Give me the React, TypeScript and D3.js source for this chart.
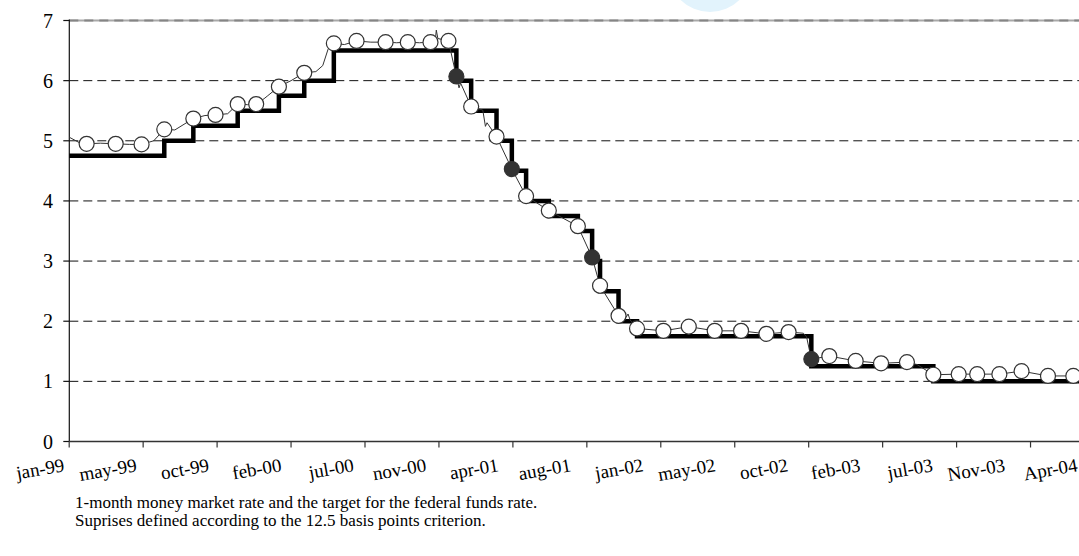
import React, { useEffect, useRef } from 'react';
import * as d3 from 'd3';

// target for the federal funds rate (step changes)
const TARGET_DATES = ['1999-01-01', '1999-06-30', '1999-08-24', '1999-11-16', '2000-02-02', '2000-03-21', '2000-05-16',
  '2001-01-03', '2001-01-31', '2001-03-20', '2001-04-18', '2001-05-15', '2001-06-27', '2001-08-21', '2001-09-17',
  '2001-10-02', '2001-11-06', '2001-12-11', '2002-11-06', '2003-06-25', '2004-04-30'];
const TARGET_VALUES = [4.75, 5.0, 5.25, 5.5, 5.75, 6.0, 6.5, 6.0, 5.5, 5.0, 4.5, 4.0, 3.75, 3.5, 3.0, 2.5, 2.0, 1.75, 1.25, 1.0, 1.0];

// 1-month money market rate
const MM_DATES = ['1999-01-01', '1999-01-20', '1999-02-03', '1999-03-01', '1999-03-30', '1999-04-25', '1999-05-18',
  '1999-06-10', '1999-06-30', '1999-07-20', '1999-08-24', '1999-09-15', '1999-10-05', '1999-10-28', '1999-11-16',
  '1999-12-05', '1999-12-21', '2000-01-05', '2000-01-12', '2000-02-02', '2000-02-25', '2000-03-21', '2000-04-12',
  '2000-04-25', '2000-05-05', '2000-05-16', '2000-06-05', '2000-06-28', '2000-07-25', '2000-08-22', '2000-09-12',
  '2000-10-03', '2000-10-25', '2000-11-15', '2000-11-24', '2000-11-26', '2000-11-29', '2000-12-19', '2001-01-03',
  '2001-01-08', '2001-01-11', '2001-01-31', '2001-02-22', '2001-02-27', '2001-03-02', '2001-03-20', '2001-04-18',
  '2001-05-15', '2001-06-27', '2001-08-21', '2001-09-17', '2001-10-02', '2001-11-06', '2001-11-20', '2001-11-24',
  '2001-11-28', '2001-12-11', '2002-01-30', '2002-03-19', '2002-05-07', '2002-06-26', '2002-08-13', '2002-09-24',
  '2002-10-22', '2002-10-28', '2002-11-06', '2002-12-10', '2003-01-29', '2003-03-18', '2003-05-06', '2003-05-25',
  '2003-06-25', '2003-08-12', '2003-09-16', '2003-10-28', '2003-12-09', '2004-01-28', '2004-03-16', '2004-04-10'];
const MM_VALUES = [5.06, 4.97, 4.95, 4.96, 4.95, 4.94, 4.94,
  5.0, 5.19, 5.18, 5.37, 5.42, 5.43, 5.45, 5.61,
  5.6, 5.61, 5.7, 5.75, 5.9, 6.0, 6.13, 6.15,
  6.25, 6.52, 6.62, 6.6, 6.66, 6.64, 6.64, 6.63,
  6.64, 6.63, 6.64, 6.66, 6.84, 6.7, 6.66, 6.07,
  5.88, 5.96, 5.57, 5.51, 5.24, 5.3, 5.07, 4.53,
  4.08, 3.84, 3.58, 3.06, 2.59, 2.09, 2.06, 2.12,
  2.02, 1.88, 1.84, 1.91, 1.84, 1.84, 1.79, 1.82,
  1.8, 1.74, 1.37, 1.42, 1.34, 1.3, 1.32, 1.28,
  1.11, 1.12, 1.12, 1.12, 1.17, 1.09, 1.09, 1.08];

// FOMC meetings: money market rate on the day, surprises filled
const MEETING_DATES = ['1999-02-03', '1999-03-30', '1999-05-18', '1999-06-30', '1999-08-24', '1999-10-05', '1999-11-16', '1999-12-21',
  '2000-02-02', '2000-03-21', '2000-05-16', '2000-06-28', '2000-08-22', '2000-10-03', '2000-11-15', '2000-12-19',
  '2001-01-03', '2001-01-31', '2001-03-20', '2001-04-18', '2001-05-15', '2001-06-27', '2001-08-21', '2001-09-17',
  '2001-10-02', '2001-11-06', '2001-12-11', '2002-01-30', '2002-03-19', '2002-05-07', '2002-06-26', '2002-08-13',
  '2002-09-24', '2002-11-06', '2002-12-10', '2003-01-29', '2003-03-18', '2003-05-06', '2003-06-25', '2003-08-12',
  '2003-09-16', '2003-10-28', '2003-12-09', '2004-01-28', '2004-03-16'];
const MEETING_RATES = [4.95, 4.95, 4.94, 5.19, 5.37, 5.43, 5.61, 5.61,
  5.9, 6.13, 6.62, 6.66, 6.64, 6.64, 6.64, 6.66,
  6.07, 5.57, 5.07, 4.53, 4.08, 3.84, 3.58, 3.06,
  2.59, 2.09, 1.88, 1.84, 1.91, 1.84, 1.84, 1.79,
  1.82, 1.37, 1.42, 1.34, 1.3, 1.32, 1.11, 1.12,
  1.12, 1.12, 1.17, 1.09, 1.09];
const SURPRISES = ['2001-01-03', '2001-04-18', '2001-09-17', '2002-11-06'];

const X_LABELS = ['jan-99', 'may-99', 'oct-99', 'feb-00', 'jul-00', 'nov-00', 'apr-01', 'aug-01', 'jan-02',
  'may-02', 'oct-02', 'feb-03', 'jul-03', 'Nov-03', 'Apr-04'];
const LABEL_STEP_DAYS = 137;
const TICK_STEP_DAYS = 140;
const Y_TICKS = [0, 1, 2, 3, 4, 5, 6, 7];

const CAPTION = [
  '1-month money market rate and the target for the federal funds rate.',
  'Suprises defined according to the 12.5 basis points criterion.',
];

const W = 1079, H = 556;
const FONT = '"Liberation Serif", "Times New Roman", serif';

const App: React.FC = () => {
  const ref = useRef<SVGSVGElement>(null);

  useEffect(() => {
    if (!ref.current) return;
    const svg = d3.select(ref.current);
    svg.selectAll('*').remove();

    const parse = d3.utcParse('%Y-%m-%d');
    const start = parse('1999-01-01') as Date;
    const end = d3.utcDay.offset(start, LABEL_STEP_DAYS * (X_LABELS.length - 1));

    const x = d3.scaleUtc().domain([start, end]).range([69.2, 1082.3]);
    const y = d3.scaleLinear().domain([0, 7]).range([441.5, 20.5]);
    const left = 69.3, right = W;

    // watermark remnant at top
    svg.append('circle').attr('cx', 710).attr('cy', -30).attr('r', 42).attr('fill', '#e2f3fc');

    // gridlines
    svg.append('g').selectAll('line').data(Y_TICKS.filter(t => t > 0 && t < 7)).join('line')
      .attr('x1', left).attr('x2', right)
      .attr('y1', d => y(d)).attr('y2', d => y(d))
      .attr('stroke', '#111').attr('stroke-width', 1).attr('stroke-dasharray', '9,5');
    svg.append('line').attr('x1', left).attr('x2', right).attr('y1', y(7)).attr('y2', y(7))
      .attr('stroke', '#a8a8a8').attr('stroke-width', 2);
    svg.append('line').attr('x1', left).attr('x2', right).attr('y1', y(7)).attr('y2', y(7))
      .attr('stroke', '#858585').attr('stroke-width', 2).attr('stroke-dasharray', '9,6');

    // axes
    svg.append('line').attr('x1', left).attr('x2', left).attr('y1', y(7) - 1).attr('y2', y(0))
      .attr('stroke', '#111').attr('stroke-width', 1.2);
    svg.append('line').attr('x1', left).attr('x2', right).attr('y1', y(0)).attr('y2', y(0))
      .attr('stroke', '#333').attr('stroke-width', 1.4);

    svg.append('g').selectAll('line').data(Y_TICKS).join('line')
      .attr('x1', left - 6).attr('x2', left)
      .attr('y1', d => y(d)).attr('y2', d => y(d))
      .attr('stroke', '#111').attr('stroke-width', 1.2);
    svg.append('g').selectAll('text').data(Y_TICKS).join('text')
      .attr('x', 53).attr('y', d => y(d)).attr('dy', '0.35em')
      .attr('text-anchor', 'end').attr('font-family', FONT).attr('font-size', 20).attr('fill', '#000')
      .text(d => d);

    const tickDates = d3.range(14).map(k => d3.utcDay.offset(start, k * TICK_STEP_DAYS));
    svg.append('g').selectAll('line').data(tickDates).join('line')
      .attr('x1', d => x(d)).attr('x2', d => x(d))
      .attr('y1', y(0)).attr('y2', y(0) + 6)
      .attr('stroke', '#333').attr('stroke-width', 1.2);

    svg.append('g').selectAll('text').data(X_LABELS).join('text')
      .attr('transform', (_, i) => {
        const lx = x(d3.utcDay.offset(start, i * LABEL_STEP_DAYS)) - 4;
        return `translate(${lx},471) rotate(-10)`;
      })
      .attr('text-anchor', 'end').attr('font-family', FONT).attr('font-size', 19).attr('fill', '#000')
      .text(d => d);

    // target step line
    const target = TARGET_DATES.map((d, i) => ({ date: parse(d) as Date, value: TARGET_VALUES[i] }));
    svg.append('path').datum(target)
      .attr('fill', 'none').attr('stroke', '#000').attr('stroke-width', 4.5)
      .attr('d', d3.line<{ date: Date; value: number }>()
        .x(d => x(d.date)).y(d => y(d.value)).curve(d3.curveStepAfter));

    // money market rate
    const mm = MM_DATES.map((d, i) => ({ date: parse(d) as Date, value: MM_VALUES[i] }));
    svg.append('path').datum(mm)
      .attr('fill', 'none').attr('stroke', '#333').attr('stroke-width', 1)
      .attr('d', d3.line<{ date: Date; value: number }>().x(d => x(d.date)).y(d => y(d.value)));

    // meetings
    const meetings = MEETING_DATES.map((d, i) => ({
      date: parse(d) as Date, value: MEETING_RATES[i], surprise: SURPRISES.includes(d),
    }));
    svg.append('g').selectAll('circle').data(meetings).join('circle')
      .attr('cx', d => x(d.date)).attr('cy', d => y(d.value)).attr('r', 7.5)
      .attr('fill', d => (d.surprise ? '#333' : '#fff'))
      .attr('stroke', '#333').attr('stroke-width', 1.2);

    // caption
    svg.append('g').selectAll('text').data(CAPTION).join('text')
      .attr('x', 75).attr('y', (_, i) => 508 + i * 18)
      .attr('font-family', FONT).attr('font-size', 17).attr('fill', '#000')
      .text(d => d);
  }, []);

  return (
    <svg ref={ref} width={W} height={H}
      style={{ position: 'absolute', left: 0, top: 0, background: '#fff' }} />
  );
};

export default App;
